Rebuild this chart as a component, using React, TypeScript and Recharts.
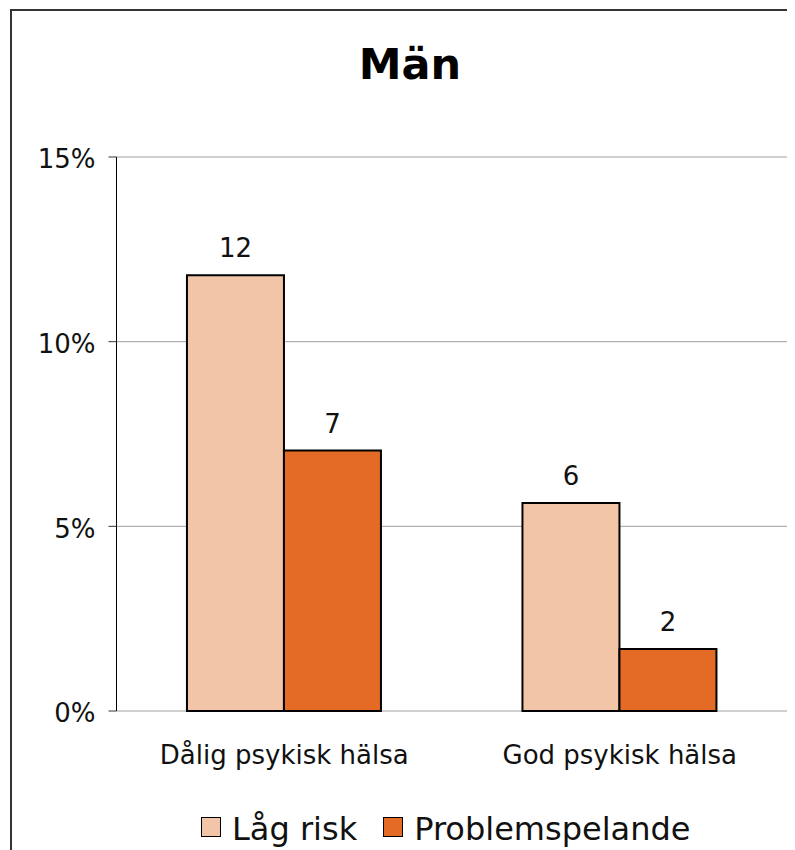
import { BarChart, Bar, XAxis, YAxis, CartesianGrid, LabelList, Legend } from "recharts"

const title = "Män"
const categories = ["Dålig psykisk hälsa", "God psykisk hälsa"]
const lowRisk = [11.8, 5.63]
const problem = [7.05, 1.68]
const yTicks = [0, 5, 10, 15]
const seriesNames = ["Låg risk", "Problemspelande"]
const colors = ["#F2C4A8", "#E36B25"]

const data = categories.map((name, i) => ({
  name,
  low: lowRisk[i],
  prob: problem[i],
}))

const font = "'DejaVu Sans', Verdana, sans-serif"

const CategoryTick = (props: any) => {
  const { x, y, payload } = props
  return (
    <text x={x} y={y + 51} textAnchor="middle" fontSize={26} fontFamily={font} fill="#111">
      {payload.value}
    </text>
  )
}

const LegendContent = () => (
  <div style={{ display: "flex", paddingLeft: 193, fontFamily: font, fontSize: 32, lineHeight: "32px", color: "#111" }}>
    {seriesNames.map((n, i) => (
      <div key={n} style={{ display: "flex", alignItems: "flex-start", marginRight: i === 0 ? 26 : 0 }}>
        <div
          style={{
            width: 18,
            height: 18,
            marginTop: 4,
            marginRight: 11,
            background: colors[i],
            border: "1.5px solid #000",
          }}
        />
        <span>{n}</span>
      </div>
    ))}
  </div>
)

export default function App() {
  return (
    <div style={{ position: "relative", width: 787, height: 842, fontFamily: font }}>
      <div
        style={{
          position: "absolute",
          left: 2,
          top: 1,
          width: 785,
          height: 841,
          borderLeft: "2px solid #333",
          borderTop: "2px solid #333",
        }}
      />
      <div
        style={{
          position: "absolute",
          left: 302,
          top: 34.6,
          width: 200,
          textAlign: "center",
          fontSize: 43,
          lineHeight: "43px",
          fontWeight: "bold",
          color: "#000",
        }}
      >
        {title}
      </div>
      <div style={{ position: "absolute", left: 0, top: 0 }}>
        <BarChart
          width={787}
          height={842}
          data={data}
          margin={{ top: 149, right: 7.5, left: 28.5, bottom: 79 }}
          barGap={0}
          barCategoryGap="21%"
        >
          <CartesianGrid vertical={false} stroke="#a0a0a0" strokeWidth={1} />
          <XAxis
            dataKey="name"
            height={60}
            tickLine={false}
            axisLine={false}
            tickSize={0}
            tick={<CategoryTick />}
            interval={0}
          />
          <XAxis
            xAxisId="edges"
            type="number"
            domain={[0, 2]}
            ticks={[0, 1, 2]}
            height={0}
            tick={false}
            tickSize={8}
            stroke="#808080"
            axisLine={{ stroke: "#808080" }}
            tickLine={{ stroke: "#808080" }}
          />
          <YAxis
            width={80}
            domain={[0, 15]}
            ticks={yTicks}
            tickFormatter={(v: number) => `${v}%`}
            tickSize={8}
            tickMargin={13}
            axisLine={{ stroke: "#000" }}
            tickLine={{ stroke: "#333" }}
            tick={{ fill: "#111", fontSize: 26, fontFamily: font, dy: 2 }}
          />
          <Legend
            layout="horizontal"
            verticalAlign="middle"
            align="center"
            wrapperStyle={{ top: 805, left: 0, width: 787 }}
            content={<LegendContent />}
          />
          <Bar dataKey="low" name={seriesNames[0]} fill={colors[0]} stroke="#000" strokeWidth={2} isAnimationActive={false}>
            <LabelList
              dataKey="low"
              position="top"
              offset={18}
              formatter={(v: any) => Math.round(Number(v))}
              style={{ fill: "#111", fontSize: 26, fontFamily: font }}
            />
          </Bar>
          <Bar dataKey="prob" name={seriesNames[1]} fill={colors[1]} stroke="#000" strokeWidth={2} isAnimationActive={false}>
            <LabelList
              dataKey="prob"
              position="top"
              offset={18}
              formatter={(v: any) => Math.round(Number(v))}
              style={{ fill: "#111", fontSize: 26, fontFamily: font }}
            />
          </Bar>
        </BarChart>
      </div>
    </div>
  )
}
